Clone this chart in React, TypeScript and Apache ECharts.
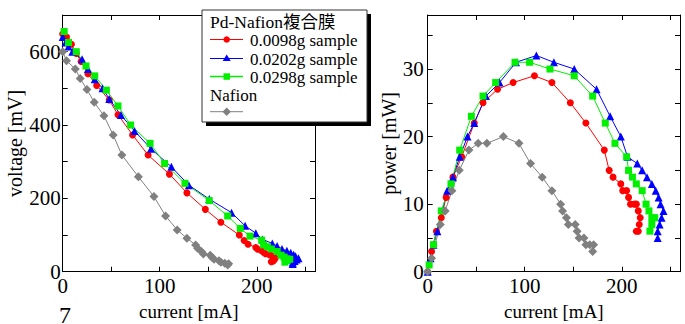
import React, { useEffect, useRef } from "react";
import * as echarts from "echarts";

// ---- data (current [mA], voltage [mV], power [mW]) ----
const redCurrent = [0, 4, 9, 14, 19, 26, 35, 48, 57, 72, 88, 110, 128, 147, 163, 182, 187, 191, 199, 201, 205, 207, 209, 213, 215, 217, 219, 218, 217, 215];
const redVoltage = [648, 640, 620, 595, 573, 540, 508, 468, 428, 373, 318, 266, 215, 170, 135, 100, 85, 75, 66, 61, 57, 53, 49, 46, 44, 41, 37, 33, 29, 27];
const redPower = [0, 3, 6, 8, 11, 14, 17, 22, 25, 27, 28, 29, 28, 25, 22, 18, 15, 14, 13, 12, 12, 11, 10, 10, 10, 9, 8, 7, 6, 6];

const blueCurrent = [0, 3, 6, 10, 20, 26, 33, 41, 48, 60, 74, 91, 112, 130, 151, 174, 188, 199, 206, 216, 221, 226, 231, 235, 238, 240, 243, 241, 239, 237, 237];
const blueVoltage = [640, 625, 614, 600, 579, 553, 525, 500, 471, 427, 384, 335, 286, 236, 198, 161, 125, 105, 88, 77, 70, 62, 57, 52, 46, 42, 37, 33, 29, 25, 21];
const bluePower = [0, 2, 4, 6, 12, 14, 17, 20, 22, 26, 28, 31, 32, 31, 30, 27, 23, 20, 17, 16, 15, 14, 13, 12, 11, 10, 9, 8, 7, 6, 5];

const greenCurrent = [1.5, 6, 14, 24, 33, 45, 57, 70, 90, 105, 126, 151, 170, 183, 193, 205, 207, 211, 215, 221, 225, 228, 231, 234, 231, 229];
const greenVoltage = [655, 625, 600, 561, 534, 495, 452, 400, 350, 295, 241, 194, 152, 118, 97, 86, 73, 68, 62, 55, 45, 40, 35, 34, 30, 26];
const greenPower = [1, 4, 9, 13, 18, 23, 26, 28, 31, 31, 30, 29, 26, 22, 19, 17, 15, 14, 13, 12, 10, 9, 8, 8, 7, 6];

const grayCurrent = [0, 4, 13, 18, 25, 32.5, 42.5, 52, 61, 78, 94, 106, 118, 128, 137, 139, 143, 145, 152, 154, 156, 161, 163, 167, 171, 170];
const grayVoltage = [600, 575, 553, 527, 497, 462, 425, 373, 318, 259, 205, 152, 114, 91, 73, 64, 55, 48, 45, 39, 34, 30, 26, 23, 22, 18];
const grayPower = [0, 2, 7, 9, 12, 15, 18, 19, 19, 20, 19, 16, 14, 12, 10, 9, 8, 7, 7, 6, 5, 5, 4, 4, 4, 3];

const legendTitle = "Pd-Nafion複合膜";
const seriesNames = ["0.0098g sample", "0.0202g sample", "0.0298g sample", "Nafion"];
const xName = "current [mA]";
const yNameLeft = "voltage [mV]";
const yNameRight = "power [mW]";
const figureNumber = "7";

const FONT = "Liberation Serif, Noto Sans CJK JP, serif";
const RED = "#ff0000";
const BLUE = "#0000ff";
const GREEN = "#00f000";
const GRAY = "#808080";

const zip = (a: number[], b: number[]) => a.map((v, i) => [v, b[i]]);

export default function App() {
  const ref = useRef<HTMLDivElement>(null);
  useEffect(() => {
    if (!ref.current) return;
    const chart = echarts.init(ref.current, undefined, { renderer: "svg" });
    const gridW = 252.3;
    const gridH = 256.7;
    const lineAxis = { lineStyle: { color: "#000", width: 1 } };
    const tick = { show: true, inside: true, length: 5, lineStyle: { color: "#000", width: 1 } };
    const mkX = (gridIndex: number) => [
      {
        type: "value", gridIndex, min: 0, max: 260, interval: 50, position: "bottom",
        name: xName, nameLocation: "middle", nameGap: 24,
        nameTextStyle: { fontFamily: FONT, fontSize: 19, color: "#000" },
        axisLine: { show: true, onZero: false, ...lineAxis }, axisTick: tick, splitLine: { show: false },
        axisLabel: { fontFamily: FONT, fontSize: 21, color: "#000", margin: 4, formatter: (v: number) => (v % 100 === 0 ? String(v) : "") },
      },
      {
        type: "value", gridIndex, min: 0, max: 260, interval: 50, position: "top",
        axisLine: { show: true, onZero: false, ...lineAxis }, axisTick: tick, splitLine: { show: false },
        axisLabel: { show: false },
      },
    ];
    const mkY = (gridIndex: number, max: number, interval: number, labelStep: number, name: string, margin: number, gap: number) => [
      {
        type: "value", gridIndex, min: 0, max, interval, position: "left",
        name, nameLocation: "middle", nameGap: gap,
        nameTextStyle: { fontFamily: FONT, fontSize: 20, color: "#000" },
        axisLine: { show: true, onZero: false, ...lineAxis }, axisTick: tick, splitLine: { show: false },
        axisLabel: { fontFamily: FONT, fontSize: 21, color: "#000", margin, formatter: (v: number) => (v % labelStep === 0 ? String(v) : "") },
      },
      {
        type: "value", gridIndex, min: 0, max, interval, position: "right",
        axisLine: { show: true, onZero: false, ...lineAxis }, axisTick: tick, splitLine: { show: false },
        axisLabel: { show: false },
      },
    ];
    const line = (name: string, data: number[][], xi: number, yi: number, color: string, symbol: string, size: number) => ({
      type: "line", name, data, xAxisIndex: xi, yAxisIndex: yi, symbol, symbolSize: size,
      lineStyle: { color, width: 1 }, itemStyle: { color }, showSymbol: true, silent: true,
    });

    const lx = 210;
    const txt = (x: number, y: number, text: string, size: number, va = "middle") => ({
      type: "text", x, y, z: 102,
      style: { text, fontFamily: FONT, fontSize: size, fill: "#000", textVerticalAlign: va, verticalAlign: va },
    });
    const legendGraphics: any[] = [
      { type: "rect", shape: { x: 206, y: 14, width: 165, height: 112 }, style: { fill: "#000" }, z: 100 },
      { type: "rect", shape: { x: 202, y: 10, width: 165, height: 112 }, style: { fill: "#fff", stroke: "#333", lineWidth: 1 }, z: 101 },
      txt(lx, 22, legendTitle, 17.5),
      // row 1
      { type: "line", shape: { x1: lx, y1: 39.5, x2: 243, y2: 39.5 }, style: { stroke: RED, lineWidth: 1 }, z: 102 },
      { type: "circle", shape: { cx: 226.7, cy: 39.5, r: 3.3 }, style: { fill: RED }, z: 103 },
      txt(250, 40.5, seriesNames[0], 17),
      // row 2
      { type: "line", shape: { x1: lx, y1: 58.5, x2: 243, y2: 58.5 }, style: { stroke: BLUE, lineWidth: 1 }, z: 102 },
      { type: "polygon", shape: { points: [[226.7, 54.5], [230.7, 61], [222.7, 61]] }, style: { fill: BLUE }, z: 103 },
      txt(250, 59.5, seriesNames[1], 17),
      // row 3
      { type: "line", shape: { x1: lx, y1: 76.5, x2: 243, y2: 76.5 }, style: { stroke: GREEN, lineWidth: 1.5 }, z: 102 },
      { type: "rect", shape: { x: 223.5, y: 73.3, width: 6.5, height: 6.5 }, style: { fill: GREEN }, z: 103 },
      txt(250, 77.5, seriesNames[2], 17),
      // Nafion
      txt(lx, 95.5, seriesNames[3], 17),
      { type: "line", shape: { x1: lx, y1: 111.7, x2: 243, y2: 111.7 }, style: { stroke: GRAY, lineWidth: 1 }, z: 102 },
      { type: "polygon", shape: { points: [[226.7, 107.5], [230.9, 111.7], [226.7, 115.9], [222.5, 111.7]] }, style: { fill: GRAY }, z: 103 },
      // figure number
      txt(59, 303, figureNumber, 24, "top"),
    ];

    chart.setOption({
      animation: false,
      backgroundColor: "#fff",
      grid: [
        { left: 62.7, top: 15, width: gridW, height: gridH, containLabel: false, outerBoundsMode: "none" },
        { left: 427.7, top: 15, width: gridW, height: gridH, containLabel: false, outerBoundsMode: "none" },
      ],
      xAxis: [...mkX(0), ...mkX(1)],
      yAxis: [...mkY(0, 700, 100, 200, yNameLeft, 2, 26), ...mkY(1, 38, 5, 10, yNameRight, 4, 23)],
      series: [
        line(seriesNames[0], zip(redCurrent, redVoltage), 0, 0, RED, "circle", 7),
        line(seriesNames[1], zip(blueCurrent, blueVoltage), 0, 0, BLUE, "triangle", 8),
        line(seriesNames[2], zip(greenCurrent, greenVoltage), 0, 0, GREEN, "rect", 7),
        line(seriesNames[3], zip(grayCurrent, grayVoltage), 0, 0, GRAY, "diamond", 9),
        line(seriesNames[0], zip(redCurrent, redPower), 2, 2, RED, "circle", 7),
        line(seriesNames[1], zip(blueCurrent, bluePower), 2, 2, BLUE, "triangle", 8),
        line(seriesNames[2], zip(greenCurrent, greenPower), 2, 2, GREEN, "rect", 7),
        line(seriesNames[3], zip(grayCurrent, grayPower), 2, 2, GRAY, "diamond", 9),
      ],
      graphic: legendGraphics,
    });
    return () => chart.dispose();
  }, []);
  return <div ref={ref} style={{ position: "fixed", left: 0, top: 0, width: 685, height: 324, background: "#fff" }} />;
}
